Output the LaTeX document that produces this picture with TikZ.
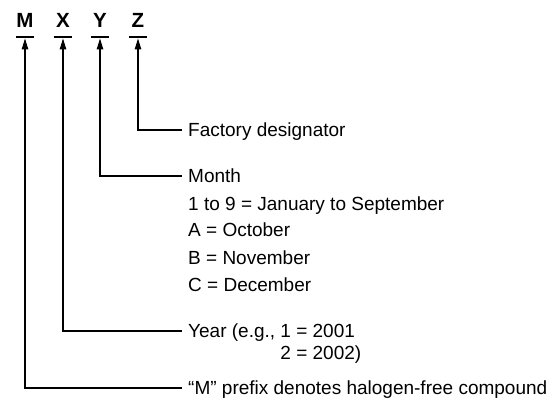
\documentclass[tikz,border=0pt]{standalone}
\usepackage{fontspec}
\setmainfont{Liberation Sans}
\usetikzlibrary{arrows.meta}
\begin{document}
\begin{tikzpicture}[x=1pt,y=-1pt,
  letter/.style={font=\fontsize{20.5}{24}\selectfont\bfseries, minimum width=18pt,
    inner xsep=0pt, inner ysep=9pt, text height=14.8pt, text depth=0pt, anchor=south},
  txt/.style={font=\fontsize{19}{22}\selectfont, anchor=west, inner xsep=6pt,
    inner ysep=0pt, text height=13.6pt, text depth=0pt},
  conn/.style={line width=1.1pt, shorten >=1.5pt, -{Triangle[length=11pt,width=6.5pt]}},
  uline/.style={line width=1.1pt}]
\useasboundingbox (0,0) rectangle (548,403);
% code letters
\node[letter] (M) at (25,37) {M};
\node[letter] (X) at (63,37) {X};
\node[letter] (Y) at (100,37) {Y};
\node[letter] (Z) at (138,37) {Z};
\foreach \l in {M,X,Y,Z}{\draw[uline] (\l.south west) -- (\l.south east);}
% descriptions
\node[txt] (fac) at (182,130) {Factory designator};
\node[txt] (mon) at (182,176) {Month};
\node[txt] (m1) at (182,204) {1 to 9 = January to September};
\node[txt] (m2) at (182,230) {A = October};
\node[txt] (m3) at (182,258) {B = November};
\node[txt] (m4) at (182,285) {C = December};
\node[txt] (year) at (182,331) {\begin{tabular}[t]{@{}l@{}l@{}}Year (e.g.,\ \ & 1 = 2001\\ & 2 = 2002)\end{tabular}};
\node[txt] (pre) at (182,388) {“M” prefix denotes halogen-free compound};
% connectors
\draw[conn] (fac.west) -| (Z.south);
\draw[conn] (mon.west) -| (Y.south);
\draw[conn] (year.west) -| (X.south);
\draw[conn] (pre.west) -| (M.south);
\end{tikzpicture}
\end{document}
